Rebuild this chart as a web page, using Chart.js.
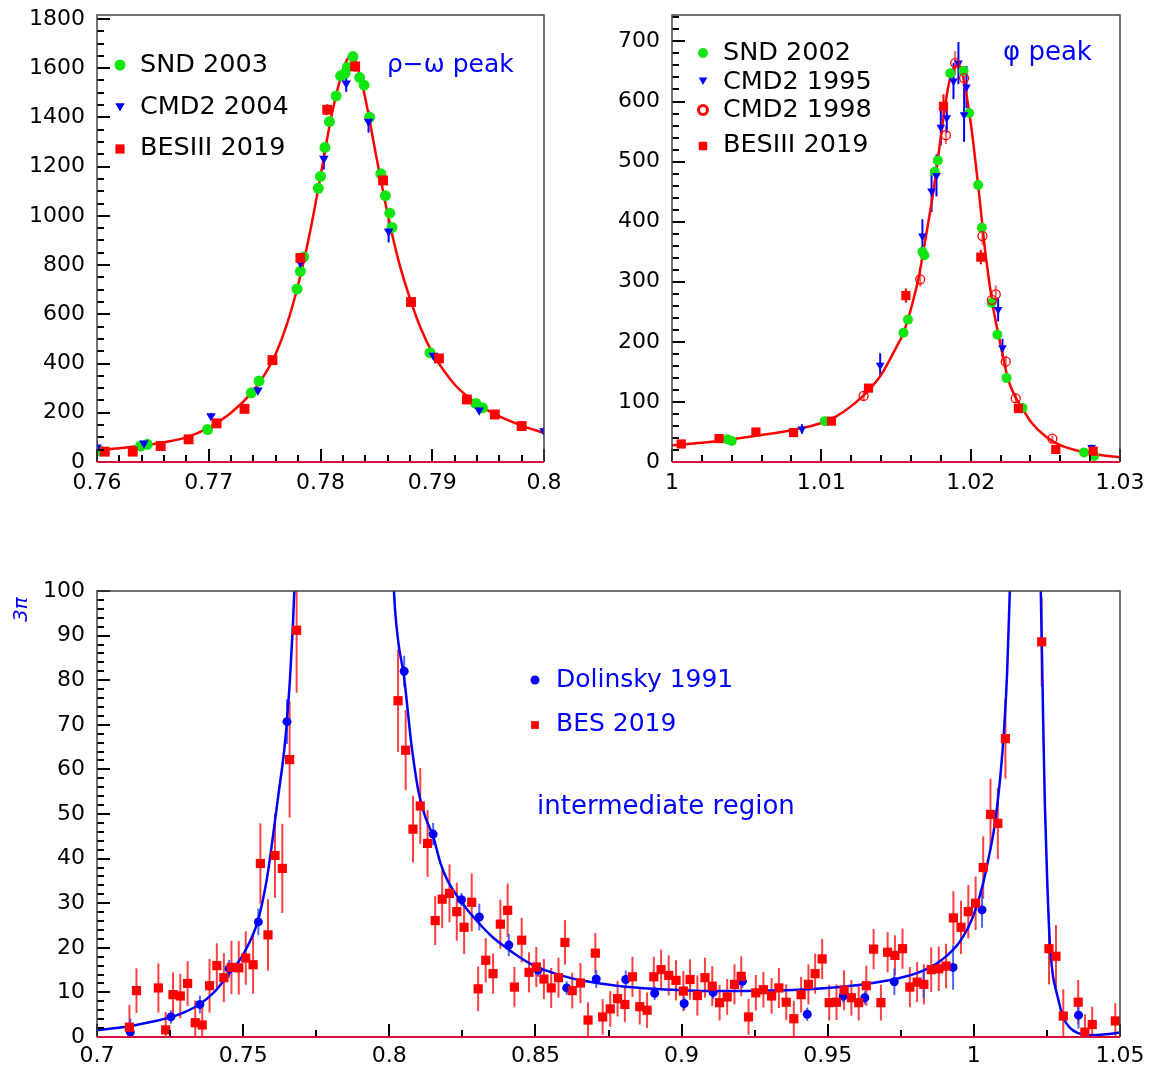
<!DOCTYPE html>
<html>
<head>
<meta charset="utf-8">
<script src="https://cdn.jsdelivr.net/npm/chart.js@4.4.1/dist/chart.umd.min.js"></script>
<style>
  body { margin: 0; background: #fff; width: 1151px; height: 1073px; position: relative; overflow: hidden; }
  canvas { position: absolute; }
</style>
</head>
<body>
<canvas id="rhoChart" width="580" height="500" style="left:0;top:0"></canvas>
<canvas id="phiChart" width="571" height="500" style="left:580px;top:0"></canvas>
<canvas id="midChart" width="1151" height="533" style="left:0;top:540px"></canvas>
<script>
// ---- rho-omega peak: [x, y, err]
const rhoTicksX = [0.76, 0.77, 0.78, 0.79, 0.8];
const rhoTicksY = [0, 200, 400, 600, 800, 1000, 1200, 1400, 1600, 1800];
const snd2003 = [
  [0.7603, 45], [0.7639, 65], [0.7645, 72], [0.7699, 132], [0.7738, 281], [0.7745, 329],
  [0.7779, 703], [0.7782, 775], [0.7785, 833], [0.7798, 1112], [0.7800, 1160], [0.7804, 1278],
  [0.7808, 1383], [0.7814, 1487], [0.7818, 1569], [0.7822, 1579], [0.7824, 1604], [0.7829, 1647],
  [0.7835, 1562], [0.7839, 1531], [0.7844, 1401], [0.7854, 1171], [0.7858, 1082], [0.7862, 1011],
  [0.7864, 953], [0.7898, 444], [0.7939, 238], [0.7945, 220]
];
const cmd2004 = [
  [0.7600, 60, 25], [0.7642, 76, 10], [0.7702, 187, 12], [0.7744, 292, 12], [0.7782, 809, 25],
  [0.7803, 1233, 45], [0.7823, 1539, 35], [0.7843, 1383, 45], [0.7861, 937, 45],
  [0.7901, 433, 15], [0.7942, 210, 10], [0.8000, 126, 15]
];
const bes2019Rho = [
  [0.7607, 42, 8], [0.7632, 42, 8], [0.7657, 65, 8], [0.7682, 92, 10], [0.7707, 157, 12],
  [0.7732, 216, 14], [0.7757, 414, 14], [0.7782, 829, 20], [0.7806, 1431, 22], [0.7831, 1607, 22],
  [0.7856, 1144, 20], [0.7881, 650, 15], [0.7906, 421, 12], [0.7931, 254, 10], [0.7956, 193, 8],
  [0.7980, 146, 8]
];
const rhoCurve = [
  [0.760, 48], [0.762, 56], [0.764, 66], [0.766, 80], [0.768, 100], [0.770, 140], [0.772, 200],
  [0.774, 290], [0.775, 355], [0.776, 440], [0.777, 560], [0.778, 720], [0.779, 920], [0.780, 1160],
  [0.781, 1410], [0.782, 1590], [0.7826, 1645], [0.783, 1640], [0.7835, 1575], [0.784, 1480],
  [0.785, 1240], [0.786, 1010], [0.787, 815], [0.788, 665], [0.789, 540], [0.790, 445],
  [0.792, 315], [0.794, 238], [0.796, 185], [0.798, 148], [0.800, 118]
];

// ---- phi peak
const phiTicksX = [1, 1.01, 1.02, 1.03];
const phiTicksY = [0, 100, 200, 300, 400, 500, 600, 700];
const snd2002 = [
  [1.0037, 38], [1.0040, 35], [1.01024, 68], [1.0155, 215], [1.0158, 237], [1.01677, 350],
  [1.0169, 344], [1.0176, 483], [1.0178, 502], [1.01863, 647], [1.01952, 651], [1.0199, 581],
  [1.0205, 461], [1.02075, 390], [1.0214, 265], [1.02179, 212], [1.0224, 140], [1.02347, 90],
  [1.02759, 16], [1.02826, 10]
];
const cmd1995 = [
  [1.0087, 55, 8], [1.01394, 161, 20], [1.01677, 376, 28], [1.01738, 451, 35], [1.01771, 477, 35],
  [1.0180, 557, 30], [1.0184, 573, 25], [1.01885, 634, 30], [1.01918, 664, 35], [1.01972, 624, 35],
  [1.01956, 578, 45], [1.02184, 254, 20], [1.02213, 190, 15], [1.0281, 24, 5]
];
const cmd1998 = [
  [1.01283, 110, 8], [1.01662, 304, 12], [1.01834, 544, 15], [1.01896, 664, 20], [1.01956, 639, 20],
  [1.02079, 376, 15], [1.02142, 270, 12], [1.02168, 279, 15], [1.02235, 167, 10], [1.02302, 106, 8],
  [1.02547, 39, 5]
];
const bes2019Phi = [
  [1.00062, 30, 3], [1.00315, 39, 3], [1.00562, 50, 4], [1.00814, 49, 4], [1.01068, 68, 4],
  [1.01316, 123, 6], [1.01566, 277, 12], [1.01818, 592, 20], [1.02068, 341, 12], [1.0232, 89, 5],
  [1.0257, 21, 3], [1.0282, 18, 3]
];
const phiCurve = [
  [1.000, 28], [1.002, 32], [1.004, 38], [1.006, 45], [1.008, 53], [1.010, 65], [1.011, 76],
  [1.012, 93], [1.013, 115], [1.014, 145], [1.015, 190], [1.0155, 215], [1.016, 255], [1.0165, 305],
  [1.017, 375], [1.0175, 450], [1.018, 540], [1.0185, 625], [1.019, 660], [1.0192, 662],
  [1.0195, 640], [1.020, 565], [1.0205, 461], [1.021, 345], [1.0215, 258], [1.022, 195],
  [1.0225, 138], [1.023, 108], [1.0235, 88], [1.024, 68], [1.025, 43], [1.026, 28], [1.028, 14],
  [1.030, 8]
];

// ---- intermediate region
const midTicksX = [0.7, 0.75, 0.8, 0.85, 0.9, 0.95, 1, 1.05];
const midTicksY = [0, 10, 20, 30, 40, 50, 60, 70, 80, 90, 100];
const dolinsky1991 = [
  [0.7114, 1.1, 3], [0.7253, 4.5, 1.5], [0.7352, 7.3, 2], [0.7452, 15.3, 2], [0.7552, 25.8, 3],
  [0.7650, 70.7, 5], [0.8051, 82, 3.5], [0.8150, 45.5, 2.5], [0.8247, 30.8, 1.5], [0.8308, 26.9, 3],
  [0.8409, 20.6, 2.5], [0.8509, 15, 1.5], [0.8607, 11, 1.5], [0.8708, 13, 2], [0.8809, 12.9, 2],
  [0.8908, 9.8, 1.5], [0.9009, 7.5, 1.5], [0.9108, 10, 1.5], [0.9208, 12.5, 1.5], [0.9430, 5.1, 1.5],
  [0.9553, 9.2, 1.5], [0.9627, 8.8, 1.5], [0.9728, 12.4, 3], [0.9828, 11.8, 3], [0.9929, 15.6, 5],
  [1.0028, 28.5, 4], [1.0358, 4.9, 3]
];
const bes2019Mid = [
  [0.7111, 2.2, 5], [0.7135, 10.4, 5], [0.7210, 11, 5.5], [0.7235, 1.6, 4], [0.7260, 9.5, 5],
  [0.7285, 9.2, 5], [0.7310, 12, 5], [0.7336, 3.2, 5], [0.7360, 2.7, 5], [0.7385, 11.5, 6],
  [0.7410, 16, 5], [0.7434, 13.3, 5.5], [0.7460, 15.6, 6], [0.7485, 15.5, 6], [0.7509, 17.7, 6],
  [0.7534, 16.2, 6.5], [0.7559, 38.9, 9], [0.7585, 22.9, 8], [0.7609, 40.7, 9.5], [0.7634, 37.8, 10],
  [0.7659, 62.2, 13], [0.7683, 91.2, 14], [0.8030, 75.4, 11.5], [0.8056, 64.3, 9], [0.8081, 46.6, 7.5],
  [0.8106, 51.8, 8.5], [0.8131, 43.4, 7.5], [0.8157, 26.1, 5.5], [0.8181, 30.9, 6.5], [0.8206, 32.2, 6.5],
  [0.8231, 28.1, 6.5], [0.8256, 24.6, 6], [0.8282, 30.2, 6.5], [0.8304, 10.8, 5], [0.8330, 17.2, 5],
  [0.8355, 14.2, 4.5], [0.8380, 25.3, 5.5], [0.8405, 28.4, 6], [0.8428, 11.2, 4.5], [0.8453, 21.7, 5],
  [0.8478, 14.5, 4.5], [0.8503, 15.7, 4.5], [0.8529, 13, 4.5], [0.8554, 11, 4.5], [0.8579, 13.3, 4.5],
  [0.8601, 21.2, 5], [0.8626, 10.4, 4], [0.8654, 12.1, 4.5], [0.8680, 3.8, 4], [0.8705, 18.8, 4.5],
  [0.8730, 4.5, 4], [0.8756, 6.3, 4], [0.8781, 8.6, 4], [0.8806, 7.3, 4], [0.8832, 13.5, 4.5],
  [0.8857, 6.8, 4], [0.8882, 6, 4], [0.8905, 13.5, 4.5], [0.8930, 15.1, 4.5], [0.8956, 13.8, 4.5],
  [0.8981, 12.7, 4.5], [0.9006, 10.3, 4.5], [0.9029, 12.9, 4.5], [0.9054, 9.3, 4.5], [0.9080, 13.3, 4.5],
  [0.9105, 11.4, 4.5], [0.9130, 7.7, 4], [0.9156, 9, 4], [0.9181, 11.8, 4.5], [0.9204, 13.6, 4.5],
  [0.9229, 4.5, 4], [0.9254, 9.9, 4], [0.9280, 10.6, 4], [0.9308, 9.2, 4], [0.9333, 11, 4.5],
  [0.9358, 7.8, 4], [0.9384, 4.1, 4], [0.9409, 9.5, 4], [0.9434, 11.8, 4.5], [0.9457, 14.2, 4.5],
  [0.9481, 17.5, 4.5], [0.9505, 7.7, 4], [0.9530, 7.8, 4], [0.9556, 10.5, 4.5], [0.9581, 8.8, 4],
  [0.9606, 7.7, 4], [0.9632, 11.5, 4.5], [0.9657, 19.7, 4.5], [0.9682, 7.7, 4], [0.9705, 19, 4.5],
  [0.9730, 18.3, 4.5], [0.9756, 19.8, 4.5], [0.9781, 11.2, 4.5], [0.9806, 12.3, 4.5], [0.9829, 11.8, 4.5],
  [0.9854, 15.1, 5], [0.9880, 15.3, 5], [0.9905, 15.9, 5], [0.9930, 26.7, 6], [0.9956, 24.6, 6],
  [0.9981, 28.1, 6], [1.0006, 30, 6], [1.0032, 38, 7], [1.0057, 49.9, 8], [1.0082, 47.9, 8],
  [1.0108, 66.9, 9], [1.0232, 88.6, 10], [1.0257, 19.8, 8], [1.0281, 18.1, 7], [1.0306, 4.7, 6],
  [1.0357, 7.8, 5], [1.0380, 1.1, 4], [1.0405, 2.8, 4], [1.0484, 3.6, 4]
];
const midCurveLeft = [
  [0.700, 1.5], [0.705, 1.9], [0.710, 2.3], [0.715, 2.9], [0.720, 3.6], [0.725, 4.4], [0.730, 5.6],
  [0.735, 7.3], [0.740, 10], [0.745, 14], [0.750, 18.5], [0.755, 26], [0.758, 35], [0.760, 44],
  [0.762, 54], [0.764, 64], [0.765, 71], [0.766, 80], [0.767, 92], [0.768, 108]
];
const midCurveCentre = [
  [0.8012, 108], [0.8016, 100], [0.803, 89], [0.805, 81], [0.8075, 66], [0.810, 55], [0.8125, 49],
  [0.815, 45], [0.8175, 39], [0.820, 35], [0.825, 30], [0.830, 26], [0.835, 22.6], [0.840, 20],
  [0.845, 17.7], [0.850, 15.8], [0.855, 14.6], [0.860, 13.6], [0.865, 12.8], [0.870, 12.2],
  [0.880, 11.3], [0.890, 10.8], [0.900, 10.5], [0.910, 10.3], [0.920, 10.3], [0.930, 10.4],
  [0.940, 10.6], [0.950, 11], [0.960, 11.6], [0.970, 12.6], [0.975, 13.3], [0.980, 14.2],
  [0.985, 15.6], [0.990, 17.8], [0.995, 21.2], [0.998, 24.5], [1.000, 27.5], [1.003, 34],
  [1.005, 40], [1.007, 47], [1.009, 58], [1.0104, 69.5], [1.0114, 82], [1.0123, 100], [1.0128, 110]
];
const midCurveRight = [
  [1.0226, 115], [1.0229, 100], [1.0233, 86], [1.0238, 68], [1.0243, 52], [1.0251, 35], [1.026, 21],
  [1.027, 14], [1.0283, 10], [1.0305, 4.5], [1.033, 2], [1.0355, 0.9], [1.0375, 0.5], [1.040, 0.4],
  [1.045, 0.6], [1.050, 1]
];

const GREEN = '#11e611';
const BLUE = '#0000ff';
const RED = '#ff0000';

Chart.defaults.font.family = "'DejaVu Sans', sans-serif";
Chart.defaults.font.size = 22;
Chart.defaults.color = '#000';

const pts = arr => arr.map(p => ({ x: p[0], y: p[1], e: p[2] || 0 }));

// vertical error bars under the markers
const errorBars = {
  id: 'errorBars',
  beforeDatasetsDraw(chart) {
    const { ctx, chartArea: a, scales: { x, y } } = chart;
    ctx.save();
    ctx.beginPath();
    ctx.rect(a.left, a.top, a.right - a.left, a.bottom - a.top);
    ctx.clip();
    chart.data.datasets.forEach(ds => {
      if (!ds.errColor) return;
      ctx.strokeStyle = ds.errColor;
      ctx.lineWidth = 2;
      ds.data.forEach(p => {
        if (!p.e) return;
        const px = x.getPixelForValue(p.x);
        ctx.beginPath();
        ctx.moveTo(px, y.getPixelForValue(p.y - p.e));
        ctx.lineTo(px, y.getPixelForValue(p.y + p.e));
        ctx.stroke();
      });
    });
    ctx.restore();
  }
};

// ROOT-like frame with ticks pointing inside
function rootFrame(cfg) {
  const isMajor = (v, list) => list.some(t => Math.abs(t - v) < 1e-7);
  return {
    id: 'rootFrame',
    afterDraw(chart) {
      const { ctx, chartArea: a } = chart;
      const x = chart.scales.x, y = chart.scales.y;
      ctx.save();
      ctx.fillStyle = '#000';
      const nx = Math.round((cfg.xRange[1] - cfg.xRange[0]) / cfg.xMinor);
      for (let i = 0; i <= nx; i++) {
        const v = cfg.xRange[0] + i * cfg.xMinor;
        const len = isMajor(v, cfg.xMajor) ? 13 : 7;
        const px = Math.round(x.getPixelForValue(v));
        ctx.fillRect(px - 1, a.bottom - len, 2, len);
      }
      const ny = Math.floor((cfg.yRange[1] - cfg.yRange[0]) / cfg.yMinor + 1e-6);
      for (let i = 0; i <= ny; i++) {
        const v = cfg.yRange[0] + i * cfg.yMinor;
        const len = isMajor(v, cfg.yMajor) ? 13 : 7;
        const py = Math.round(y.getPixelForValue(v));
        ctx.fillRect(a.left, py - 1, len, 2);
      }
      ctx.strokeStyle = '#444';
      ctx.lineWidth = 1.5;
      ctx.beginPath();
      ctx.moveTo(a.left, a.bottom); ctx.lineTo(a.left, a.top);
      ctx.lineTo(a.right, a.top); ctx.lineTo(a.right, a.bottom);
      ctx.stroke();
      ctx.strokeStyle = '#d6103c';
      ctx.lineWidth = 2;
      ctx.beginPath(); ctx.moveTo(a.left, a.bottom); ctx.lineTo(a.right, a.bottom); ctx.stroke();
      ctx.restore();
    }
  };
}

// legend entries and captions
function captions(items) {
  return {
    id: 'captions',
    afterDraw(chart) {
      const ctx = chart.ctx;
      items.forEach(it => {
        ctx.save();
        if (it.marker) {
          ctx.fillStyle = it.fill || '#fff';
          ctx.strokeStyle = it.color;
          ctx.lineWidth = it.bw || 1;
          Chart.helpers.drawPoint(ctx, {
            pointStyle: it.marker, radius: it.r, rotation: it.rot || 0, borderWidth: it.bw || 0
          }, it.x, it.y);
        } else {
          ctx.fillStyle = it.color || '#000';
          ctx.font = (it.style || '') + ' ' + it.size + "px 'DejaVu Sans', sans-serif";
          ctx.textBaseline = it.base || 'middle';
          ctx.translate(it.x, it.y);
          if (it.rot) ctx.rotate(it.rot);
          ctx.fillText(it.text, 0, 0);
        }
        ctx.restore();
      });
    }
  };
}

function markerSet(label, data, style, r, color, extra) {
  return Object.assign({
    label, data: pts(data), pointStyle: style, pointRadius: r, pointBorderWidth: 0,
    backgroundColor: color, borderColor: color, showLine: false
  }, extra || {});
}

function curveSet(data, color, order) {
  return {
    type: 'line', data: pts(data), borderColor: color, borderWidth: 2.5, pointRadius: 0,
    fill: false, cubicInterpolationMode: 'monotone', order
  };
}

function axes(xMin, xMax, yMin, yMax, xTicks, yTicks, yWidth, xHeight, xPad, yPad) {
  return {
    x: {
      type: 'linear', min: xMin, max: xMax,
      grid: { display: false, drawTicks: false }, border: { display: false },
      afterBuildTicks: s => { s.ticks = xTicks.map(v => ({ value: v })); },
      afterFit: s => { s.height = xHeight; s.paddingLeft = 0; s.paddingRight = 0; },
      ticks: { autoSkip: false, maxRotation: 0, padding: xPad, callback: v => String(v) }
    },
    y: {
      type: 'linear', min: yMin, max: yMax,
      grid: { display: false, drawTicks: false }, border: { display: false },
      afterBuildTicks: s => { s.ticks = yTicks.map(v => ({ value: v })); },
      afterFit: s => { s.width = yWidth; s.paddingTop = 0; s.paddingBottom = 0; },
      ticks: { autoSkip: false, padding: yPad, callback: v => String(v) }
    }
  };
}

const common = {
  responsive: false, animation: false, events: [],
  plugins: { legend: { display: false }, tooltip: { enabled: false } }
};

// top left: rho-omega
new Chart(document.getElementById('rhoChart'), {
  type: 'scatter',
  data: {
    datasets: [
      markerSet('BESIII 2019', bes2019Rho, 'rect', 7, RED, { errColor: RED, order: 1 }),
      markerSet('CMD2 2004', cmd2004, 'triangle', 5.5, BLUE, { errColor: BLUE, rotation: 180, order: 2 }),
      markerSet('SND 2003', snd2003, 'circle', 5.5, GREEN, { order: 3 }),
      curveSet(rhoCurve, RED, 10)
    ]
  },
  options: Object.assign({}, common, {
    layout: { padding: { top: 15, right: 36, left: 0, bottom: 0 } },
    scales: axes(0.76, 0.8, 0, 1816, rhoTicksX, rhoTicksY, 97, 38, 8, 12)
  }),
  plugins: [
    errorBars,
    rootFrame({ xRange: [0.76, 0.8], yRange: [0, 1816], xMinor: 0.002, yMinor: 50, xMajor: rhoTicksX, yMajor: rhoTicksY }),
    captions([
      { marker: 'circle', x: 120, y: 65, r: 5.5, fill: GREEN, color: GREEN },
      { text: 'SND 2003', x: 140, y: 65, size: 25.5 },
      { marker: 'triangle', x: 120, y: 106, r: 5.5, rot: 180, fill: BLUE, color: BLUE },
      { text: 'CMD2 2004', x: 140, y: 107, size: 25.5 },
      { marker: 'rect', x: 120, y: 149, r: 6.5, fill: RED, color: RED },
      { text: 'BESIII 2019', x: 140, y: 148, size: 25.5 },
      { text: 'ρ−ω peak', x: 387, y: 72, size: 25, color: BLUE, base: 'alphabetic' }
    ])
  ]
});

// top right: phi
new Chart(document.getElementById('phiChart'), {
  type: 'scatter',
  data: {
    datasets: [
      markerSet('BESIII 2019', bes2019Phi, 'rect', 6.5, RED, { errColor: RED, order: 1 }),
      markerSet('CMD2 1998', cmd1998, 'circle', 4.5, RED,
        { backgroundColor: 'rgba(255,255,255,0)', pointBorderWidth: 1.3, errColor: 'rgba(255,60,60,0.8)', order: 2 }),
      markerSet('CMD2 1995', cmd1995, 'triangle', 5, BLUE, { errColor: BLUE, rotation: 180, order: 3 }),
      markerSet('SND 2002', snd2002, 'circle', 5, GREEN, { order: 4 }),
      curveSet(phiCurve, RED, 10)
    ]
  },
  options: Object.assign({}, common, {
    layout: { padding: { top: 15, right: 31, left: 0, bottom: 0 } },
    scales: axes(1, 1.03, 0, 744, phiTicksX, phiTicksY, 92, 38, 8, 12)
  }),
  plugins: [
    errorBars,
    rootFrame({ xRange: [1, 1.03], yRange: [0, 744], xMinor: 0.002, yMinor: 20, xMajor: phiTicksX, yMajor: phiTicksY }),
    captions([
      { marker: 'circle', x: 123, y: 53, r: 5, fill: GREEN, color: GREEN },
      { text: 'SND 2002', x: 143, y: 53, size: 25.5 },
      { marker: 'triangle', x: 123, y: 80, r: 5, rot: 180, fill: BLUE, color: BLUE },
      { text: 'CMD2 1995', x: 143, y: 82, size: 25.5 },
      { marker: 'circle', x: 123, y: 110, r: 4.5, fill: '#fff', color: RED, bw: 3 },
      { text: 'CMD2 1998', x: 143, y: 110, size: 25.5 },
      { marker: 'rect', x: 123, y: 146, r: 6, fill: RED, color: RED },
      { text: 'BESIII 2019', x: 143, y: 145, size: 25.5 },
      { text: 'φ peak', x: 423, y: 60, size: 26, color: BLUE, base: 'alphabetic' }
    ])
  ]
});

// bottom: intermediate region
new Chart(document.getElementById('midChart'), {
  type: 'scatter',
  data: {
    datasets: [
      markerSet('BES 2019', bes2019Mid, 'rect', 6.5, RED, { errColor: 'rgba(255,30,30,0.85)', order: 1 }),
      markerSet('Dolinsky 1991', dolinsky1991, 'circle', 4.5, BLUE, { errColor: 'rgba(40,60,255,0.8)', order: 2 }),
      curveSet(midCurveLeft, BLUE, 10),
      curveSet(midCurveCentre, BLUE, 11),
      curveSet(midCurveRight, BLUE, 12)
    ]
  },
  options: Object.assign({}, common, {
    layout: { padding: { top: 51, right: 31, left: 0, bottom: 0 } },
    scales: axes(0.7, 1.05, 0, 100, midTicksX, midTicksY, 97, 36, 6, 12)
  }),
  plugins: [
    errorBars,
    rootFrame({ xRange: [0.7, 1.05], yRange: [0, 100], xMinor: 0.025, yMinor: 2, xMajor: midTicksX, yMajor: midTicksY }),
    captions([
      { text: '3π', x: 27, y: 82, size: 20, style: 'italic', color: BLUE, rot: -Math.PI / 2, base: 'alphabetic' },
      { marker: 'circle', x: 535, y: 140, r: 4.5, fill: BLUE, color: BLUE },
      { text: 'Dolinsky 1991', x: 556, y: 140, size: 25, color: BLUE },
      { marker: 'rect', x: 535, y: 185, r: 5.5, fill: RED, color: RED },
      { text: 'BES 2019', x: 556, y: 184, size: 25, color: BLUE },
      { text: 'intermediate region', x: 537, y: 274, size: 26, color: BLUE, base: 'alphabetic' }
    ])
  ]
});
</script>
</body>
</html>
